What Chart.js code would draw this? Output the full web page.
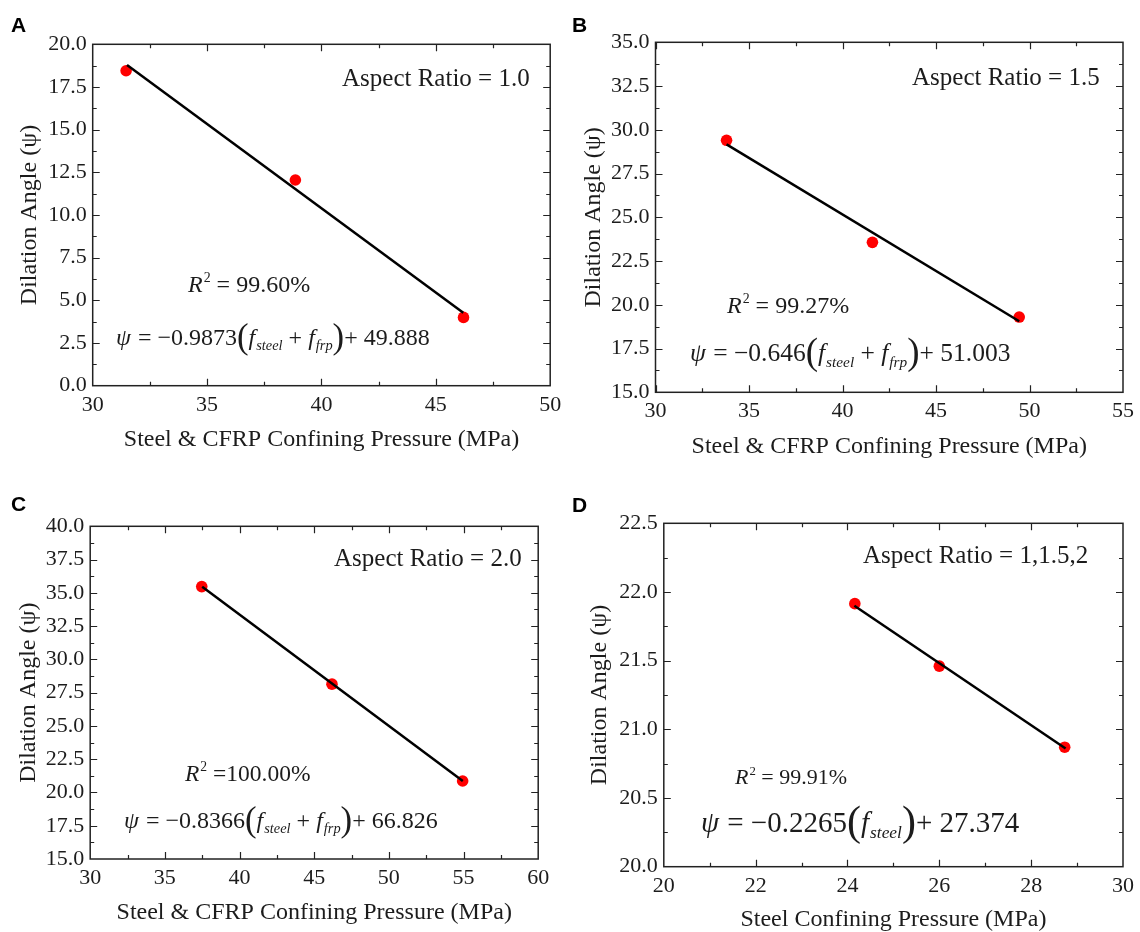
<!DOCTYPE html>
<html>
<head>
<meta charset="utf-8">
<script src="https://cdn.jsdelivr.net/npm/chart.js@4.4.1/dist/chart.umd.min.js"></script>
<style>
  html, body { margin: 0; padding: 0; background: #fff; }
  #wrap { position: relative; width: 1140px; height: 932px; overflow: hidden; }
  #wrap canvas { position: absolute; }
</style>
</head>
<body>
<div id="wrap">
  <canvas id="pA" width="570" height="466" style="left:0;top:0"></canvas>
  <canvas id="pB" width="570" height="466" style="left:570px;top:0"></canvas>
  <canvas id="pC" width="570" height="466" style="left:0;top:466px"></canvas>
  <canvas id="pD" width="570" height="466" style="left:570px;top:466px"></canvas>
</div>
<script>
// ---- data ----
// A: aspect ratio 1.0
const pressureA = [31.46, 38.86, 46.21];
const angleA    = [18.45, 12.05, 4.0];
const fitXA     = [31.5, 46.2];
const fitYA     = [18.79, 4.27];
const xAxisA    = [30, 50, 5];
const yAxisA    = [0, 20, 2.5];

// B: aspect ratio 1.5
const pressureB = [33.8, 41.6, 49.45];
const angleB    = [29.4, 23.57, 19.3];
const fitXB     = [33.8, 49.45];
const fitYB     = [29.17, 19.06];
const xAxisB    = [30, 55, 5];
const yAxisB    = [15, 35, 2.5];

// C: aspect ratio 2.0
const pressureC = [37.47, 46.19, 54.94];
const angleC    = [35.47, 28.14, 20.86];
const fitXC     = [37.5, 54.95];
const fitYC     = [35.45, 20.86];
const xAxisC    = [30, 60, 5];
const yAxisC    = [15, 40, 2.5];

// D: all aspect ratios, steel only
const pressureD = [24.16, 26.0, 28.73];
const angleD    = [21.915, 21.46, 20.87];
const fitXD     = [24.15, 28.75];
const fitYD     = [21.90, 20.86];
const xAxisD    = [20, 30, 2];
const yAxisD    = [20, 22.5, 0.5];

const SERIF = "'Liberation Serif', 'Times New Roman', serif";
const SANS  = "'Liberation Sans', Arial, sans-serif";
const INK   = '#1c1c1c';

const xTitleCFRP  = 'Steel & CFRP Confining Pressure (MPa)';
const xTitleSteel = 'Steel Confining Pressure (MPa)';
const yTitle      = 'Dilation Angle (\u03c8)';

// equation pieces: [text, kind]  kind: n normal, i italic, s subscript, p paren
function eqRuns(coef, inter, frp) {
  const r = [['\u03c8', 'i'], [' = \u2212' + coef, 'n'], ['(', 'p'], ['f', 'i'], ['steel', 's']];
  if (frp) r.push([' + ', 'n'], ['f', 'i'], ['frp', 's']);
  r.push([')', 'p'], ['+ ' + inter, 'n']);
  return r;
}

const panels = [
  { id: 'pA', tag: 'A', xs: pressureA, ys: angleA, fx: fitXA, fy: fitYA, xAxis: xAxisA, yAxis: yAxisA,
    xTitle: xTitleCFRP, geo: { yW: 92.7, xH: 80.3, top: 44.3, right: 19.8, yTitlePad: 18, xTitlePad: 14 },
    tagPos: [11, 32],
    aspect: { text: 'Aspect Ratio = 1.0', x: 342, y: 86, size: 25 },
    r2: { text: ' = 99.60%', x: 188, y: 292, size: 24 },
    eq: { runs: eqRuns('0.9873', '49.888', true), x: 116, y: 345, size: 24 } },
  { id: 'pB', tag: 'B', xs: pressureB, ys: angleB, fx: fitXB, fy: fitYB, xAxis: xAxisB, yAxis: yAxisB,
    xTitle: xTitleCFRP, geo: { yW: 85.5, xH: 73.7, top: 42.3, right: 13.6, yTitlePad: 12, xTitlePad: 7 },
    tagPos: [2, 32],
    aspect: { text: 'Aspect Ratio = 1.5', x: 342, y: 85, size: 25 },
    r2: { text: ' = 99.27%', x: 157, y: 313, size: 24 },
    eq: { runs: eqRuns('0.646', '51.003', true), x: 120, y: 361, size: 25.5 } },
  { id: 'pC', tag: 'C', xs: pressureC, ys: angleC, fx: fitXC, fy: fitYC, xAxis: xAxisC, yAxis: yAxisC,
    xTitle: xTitleCFRP, geo: { yW: 90.2, xH: 73, top: 60.3, right: 31.8, yTitlePad: 17, xTitlePad: 7 },
    tagPos: [11, 45],
    aspect: { text: 'Aspect Ratio = 2.0', x: 334, y: 100, size: 25 },
    r2: { text: ' =100.00%', x: 185, y: 315, size: 23.5 },
    eq: { runs: eqRuns('0.8366', '66.826', true), x: 124, y: 362, size: 24 } },
  { id: 'pD', tag: 'D', xs: pressureD, ys: angleD, fx: fitXD, fy: fitYD, xAxis: xAxisD, yAxis: yAxisD,
    xTitle: xTitleSteel, geo: { yW: 93.8, xH: 65.3, top: 57.3, right: 14.7, yTitlePad: 18, xTitlePad: 0 },
    tagPos: [2, 46],
    aspect: { text: 'Aspect Ratio = 1,1.5,2', x: 293, y: 97, size: 25 },
    r2: { text: ' = 99.91%', x: 165, y: 318, size: 22 },
    eq: { runs: eqRuns('0.2265', '27.374', false), x: 131, y: 366, size: 29 } },
];

// inward ticks on all four sides + closed frame
const framePlugin = {
  id: 'frame',
  beforeDatasetsDraw(chart) {
    const { ctx, chartArea: a, scales: { x, y } } = chart;
    ctx.save();
    ctx.strokeStyle = '#222';
    ctx.lineWidth = 1.5;
    ctx.strokeRect(a.left, a.top, a.right - a.left, a.bottom - a.top);
    ctx.lineWidth = 1.2;
    const marks = (scale) => {
      const v = scale.ticks.map(t => t.value);
      const out = [];
      v.forEach((t, i) => {
        out.push([t, 7]);
        if (i < v.length - 1) out.push([(t + v[i + 1]) / 2, 4]);
      });
      return out;
    };
    ctx.beginPath();
    marks(x).forEach(([v, len]) => {
      const px = Math.round(x.getPixelForValue(v)) + 0.5;
      if (px < a.left + 1 || px > a.right - 1) return;
      ctx.moveTo(px, a.bottom); ctx.lineTo(px, a.bottom - len);
      ctx.moveTo(px, a.top);    ctx.lineTo(px, a.top + len);
    });
    marks(y).forEach(([v, len]) => {
      const py = Math.round(y.getPixelForValue(v)) + 0.5;
      if (py < a.top + 1 || py > a.bottom - 1) return;
      ctx.moveTo(a.left, py);  ctx.lineTo(a.left + len, py);
      ctx.moveTo(a.right, py); ctx.lineTo(a.right - len, py);
    });
    ctx.stroke();
    ctx.restore();
  }
};

// panel letter, aspect ratio, R^2 and fit equation
const notesPlugin = {
  id: 'notes',
  afterDraw(chart, args, p) {
    const ctx = chart.ctx;
    ctx.save();
    ctx.fillStyle = '#000';
    ctx.textBaseline = 'alphabetic';
    ctx.textAlign = 'left';
    ctx.font = `bold 21px ${SANS}`;
    ctx.fillText(p.tag, p.tagPos[0], p.tagPos[1]);

    ctx.fillStyle = INK;
    ctx.font = `${p.aspect.size}px ${SERIF}`;
    ctx.fillText(p.aspect.text, p.aspect.x, p.aspect.y);

    // R^2 = ...
    const r = p.r2;
    let cx = r.x;
    ctx.font = `italic ${r.size}px ${SERIF}`;
    ctx.fillText('R', cx, r.y); cx += ctx.measureText('R').width + 1;
    ctx.font = `${r.size * 0.58}px ${SERIF}`;
    ctx.fillText('2', cx, r.y - r.size * 0.42); cx += ctx.measureText('2').width;
    ctx.font = `${r.size}px ${SERIF}`;
    ctx.fillText(r.text, cx, r.y);

    // equation
    const e = p.eq;
    cx = e.x;
    e.runs.forEach(([t, k]) => {
      let fs = e.size, dy = 0, style = '';
      if (k === 'i') style = 'italic ';
      if (k === 's') { style = 'italic '; fs = e.size * 0.6; dy = e.size * 0.22; }
      if (k === 'p') { fs = e.size * 1.45; dy = e.size * 0.12; }
      ctx.font = `${style}${fs}px ${SERIF}`;
      ctx.fillText(t, cx, e.y + dy);
      cx += ctx.measureText(t).width + (k === 'i' ? 1 : 0);
    });
    ctx.restore();
  }
};

Chart.defaults.font.family = SERIF;
Chart.defaults.color = INK;

function axisOpts(range, fmt, extra) {
  return Object.assign({
    type: 'linear',
    min: range[0],
    max: range[1],
    grid: { display: false, drawTicks: false },
    border: { display: false },
    ticks: { stepSize: range[2], autoSkip: false, maxRotation: 0, color: INK,
             font: { size: 22 }, padding: 6, callback: fmt },
  }, extra);
}

panels.forEach(p => {
  const g = p.geo;
  new Chart(document.getElementById(p.id), {
    type: 'scatter',
    data: {
      datasets: [
        {
          data: p.fx.map((v, i) => ({ x: v, y: p.fy[i] })),
          showLine: true, borderColor: '#000', borderWidth: 2.5,
          pointRadius: 0, order: 0,
        },
        {
          data: p.xs.map((v, i) => ({ x: v, y: p.ys[i] })),
          pointRadius: 5.8, pointBackgroundColor: '#ff0000', pointBorderWidth: 0,
          order: 1,
        },
      ]
    },
    options: {
      responsive: false,
      animation: false,
      devicePixelRatio: 1,
      layout: { padding: { left: 0, top: g.top, right: g.right, bottom: 0 } },
      plugins: {
        legend: { display: false },
        tooltip: { enabled: false },
        notes: p,
      },
      scales: {
        x: axisOpts(p.xAxis, v => String(v), {
          title: { display: true, text: p.xTitle, color: INK,
                   font: { size: 24, lineHeight: 1 }, padding: { top: 0, bottom: g.xTitlePad } },
          afterFit(s) { s.height = g.xH; },
        }),
        y: axisOpts(p.yAxis, v => v.toFixed(1), {
          title: { display: true, text: yTitle, color: INK,
                   font: { size: 24, lineHeight: 1 }, padding: { top: g.yTitlePad, bottom: 0 } },
          afterFit(s) { s.width = g.yW; },
        }),
      }
    },
    plugins: [framePlugin, notesPlugin],
  });
});
</script>
</body>
</html>
